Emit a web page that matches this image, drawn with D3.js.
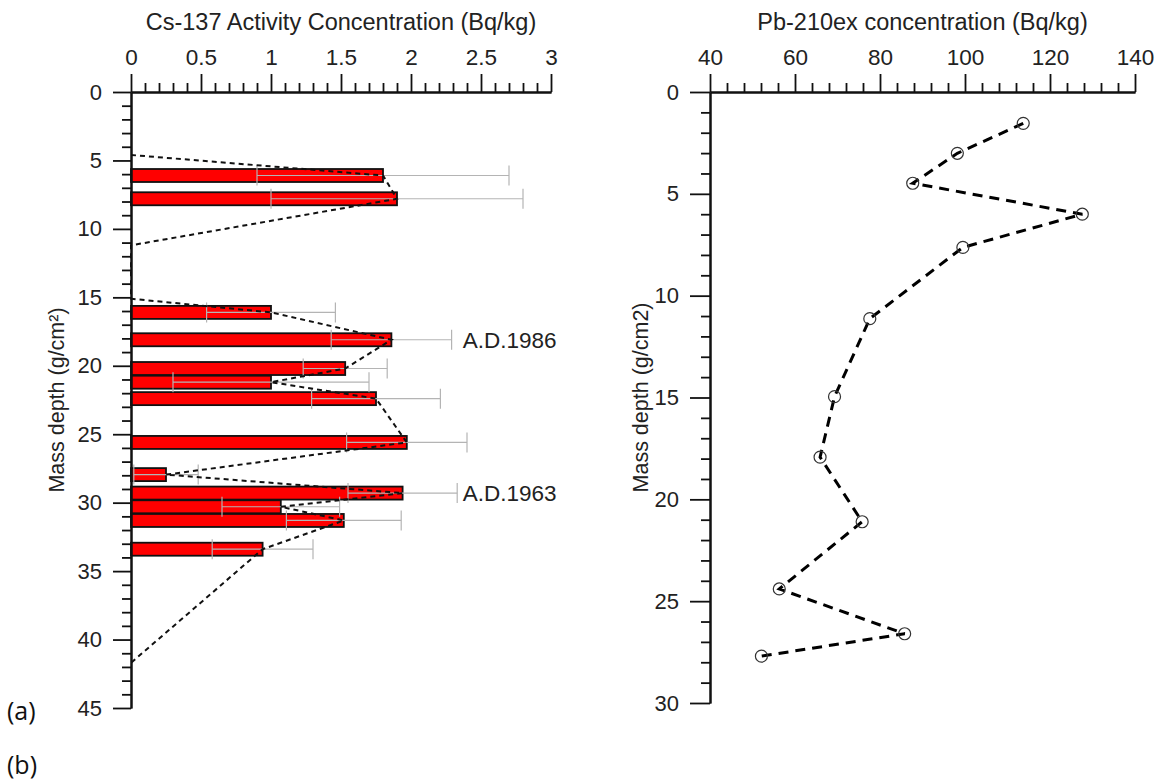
<!DOCTYPE html>
<html>
<head>
<meta charset="utf-8">
<script src="https://cdn.jsdelivr.net/npm/d3@7"></script>
<style>
  html, body { margin: 0; padding: 0; background: #fff; }
  svg { display: block; }
</style>
</head>
<body>
<svg id="chart" width="1158" height="784"></svg>
<script>
// ---------- DATA ----------
// Panel (a): Cs-137 bars
const csDepth = [6.1, 7.8, 16.1, 18.1, 20.2, 21.2, 22.4, 25.6, 27.95, 29.3, 30.3, 31.3, 33.4];
const csValue = [1.80, 1.90, 1.00, 1.86, 1.53, 1.00, 1.75, 1.97, 0.25, 1.94, 1.07, 1.52, 0.94];
const csError = [0.90, 0.90, 0.46, 0.43, 0.30, 0.70, 0.46, 0.43, 0.23, 0.39, 0.42, 0.41, 0.36];
// Panel (a): dotted profile line
const profDepth = [4.6, 6.1, 7.8, 11.2, 15.1, 16.1, 18.1, 20.2, 21.2, 22.4, 25.6, 27.95, 29.3, 30.3, 31.3, 33.4, 41.7];
const profValue = [0, 1.80, 1.90, 0, 0, 1.00, 1.86, 1.53, 1.00, 1.75, 1.97, 0.25, 1.94, 1.07, 1.52, 0.94, 0];
// Annotations
const annText = ["A.D.1986", "A.D.1963"];
const annDepth = [18.1, 29.3];
const annValue = [2.37, 2.37];
// Axis ticks panel (a)
const csXTicks = [0, 0.5, 1, 1.5, 2, 2.5, 3];
const csYTicks = [0, 5, 10, 15, 20, 25, 30, 35, 40, 45];

// Panel (b): Pb-210ex
const pbDepth = [1.54, 3.01, 4.48, 6.0, 7.63, 11.13, 14.96, 17.93, 21.1, 24.4, 26.6, 27.7];
const pbValue = [113.7, 98.2, 87.7, 127.6, 99.5, 77.6, 69.3, 65.9, 75.8, 56.3, 85.8, 52.1];
const pbXTicks = [40, 60, 80, 100, 120, 140];
const pbYTicks = [0, 5, 10, 15, 20, 25, 30];

const FONT = "'Liberation Sans', Arial, sans-serif";
const svg = d3.select("#chart");

function styleAxis(g, fs) {
  g.selectAll("path.domain").attr("stroke", "#111").attr("stroke-width", 2);
  g.selectAll(".tick line").attr("stroke", "#111").attr("stroke-width", 1.8);
  g.selectAll(".tick text").attr("font-size", fs || 22).attr("fill", "#222")
    .attr("font-family", FONT);
}

// ---------- PANEL A ----------
const xA = d3.scaleLinear().domain([0, 3]).range([131, 551]);
const yA = d3.scaleLinear().domain([0, 45]).range([92, 708]);

const gA = svg.append("g");
const barH = 13;

gA.selectAll("rect.bar").data(csDepth).join("rect")
  .attr("class", "bar")
  .attr("x", xA(0))
  .attr("y", (d) => yA(d) - barH / 2)
  .attr("width", (d, i) => xA(csValue[i]) - xA(0))
  .attr("height", barH)
  .attr("fill", "#ff0000")
  .attr("stroke", "#111")
  .attr("stroke-width", 1.8);

const eb = gA.selectAll("g.eb").data(csDepth).join("g").attr("class", "eb")
  .attr("stroke", "#b4b4b4").attr("stroke-width", 1.2);
eb.append("line")
  .attr("x1", (d, i) => xA(csValue[i] - csError[i]))
  .attr("x2", (d, i) => xA(csValue[i] + csError[i]))
  .attr("y1", (d) => yA(d)).attr("y2", (d) => yA(d));
eb.append("line")
  .attr("x1", (d, i) => xA(csValue[i] - csError[i]))
  .attr("x2", (d, i) => xA(csValue[i] - csError[i]))
  .attr("y1", (d) => yA(d) - 10).attr("y2", (d) => yA(d) + 10);
eb.append("line")
  .attr("x1", (d, i) => xA(csValue[i] + csError[i]))
  .attr("x2", (d, i) => xA(csValue[i] + csError[i]))
  .attr("y1", (d) => yA(d) - 10).attr("y2", (d) => yA(d) + 10);

const profLine = d3.line().x((d) => xA(d[1])).y((d) => yA(d[0]));
gA.append("path")
  .datum(profDepth.map((d, i) => [d, profValue[i]]))
  .attr("d", profLine)
  .attr("fill", "none")
  .attr("stroke", "#111")
  .attr("stroke-width", 2)
  .attr("stroke-dasharray", "5,4");

gA.selectAll("text.ann").data(annText).join("text")
  .attr("class", "ann")
  .attr("x", (d, i) => xA(annValue[i]))
  .attr("y", (d, i) => yA(annDepth[i]))
  .attr("dy", "0.35em")
  .attr("font-family", FONT)
  .attr("font-size", 22.5)
  .attr("fill", "#222")
  .text((d) => d);

const minorXA = d3.range(0, 3.0001, 0.1).map((v) => +v.toFixed(2)).filter((v) => !csXTicks.some((t) => Math.abs(t - v) < 1e-6));
const minorYA = d3.range(0, 45.001, 1).filter((v) => !csYTicks.includes(v));

gA.append("g").attr("transform", `translate(0,${yA(0)})`)
  .call(d3.axisTop(xA).tickValues(minorXA).tickSize(9).tickSizeOuter(0).tickFormat(""))
  .call(styleAxis);
gA.append("g").attr("transform", `translate(0,${yA(0)})`)
  .call(d3.axisTop(xA).tickValues(csXTicks).tickSize(18).tickSizeOuter(0).tickPadding(9).tickFormat(d3.format("")))
  .call((g) => styleAxis(g, 22.5));
gA.append("g").attr("transform", `translate(${xA(0)},0)`)
  .call(d3.axisLeft(yA).tickValues(minorYA).tickSize(9).tickSizeOuter(0).tickFormat(""))
  .call(styleAxis);
gA.append("g").attr("transform", `translate(${xA(0)},0)`)
  .call(d3.axisLeft(yA).tickValues(csYTicks).tickSize(18).tickSizeOuter(0).tickPadding(11).tickFormat(d3.format("")))
  .call((g) => styleAxis(g, 22));

gA.append("text")
  .attr("x", (xA.range()[0] + xA.range()[1]) / 2)
  .attr("y", 30)
  .attr("text-anchor", "middle")
  .attr("font-family", FONT)
  .attr("font-size", 23.5)
  .attr("fill", "#222")
  .text("Cs-137 Activity Concentration (Bq/kg)");

gA.append("text")
  .attr("transform", `translate(64,${(yA.range()[0] + yA.range()[1]) / 2}) rotate(-90)`)
  .attr("text-anchor", "middle")
  .attr("font-family", FONT)
  .attr("font-size", 21.5)
  .attr("fill", "#222")
  .text("Mass depth (g/cm²)");

// ---------- PANEL B ----------
const xB = d3.scaleLinear().domain([40, 140]).range([710, 1135]);
const yB = d3.scaleLinear().domain([0, 30]).range([92, 703]);
const gB = svg.append("g");

const minorXB = d3.range(40, 140.001, 4).filter((v) => !pbXTicks.includes(v));
const minorYB = d3.range(0, 30.001, 1).filter((v) => !pbYTicks.includes(v));

gB.append("g").attr("transform", `translate(0,${yB(0)})`)
  .call(d3.axisTop(xB).tickValues(minorXB).tickSize(9).tickSizeOuter(0).tickFormat(""))
  .call(styleAxis);
gB.append("g").attr("transform", `translate(0,${yB(0)})`)
  .call(d3.axisTop(xB).tickValues(pbXTicks).tickSize(18).tickSizeOuter(0).tickPadding(9).tickFormat(d3.format("")))
  .call((g) => styleAxis(g, 22.5));
gB.append("g").attr("transform", `translate(${xB(40)},0)`)
  .call(d3.axisLeft(yB).tickValues(minorYB).tickSize(9).tickSizeOuter(0).tickFormat(""))
  .call(styleAxis);
gB.append("g").attr("transform", `translate(${xB(40)},0)`)
  .call(d3.axisLeft(yB).tickValues(pbYTicks).tickSize(20).tickSizeOuter(0).tickPadding(11).tickFormat(d3.format("")))
  .call((g) => styleAxis(g, 22));

gB.append("text")
  .attr("x", (xB.range()[0] + xB.range()[1]) / 2)
  .attr("y", 30)
  .attr("text-anchor", "middle")
  .attr("font-family", FONT)
  .attr("font-size", 23.5)
  .attr("fill", "#222")
  .text("Pb-210ex concentration (Bq/kg)");

gB.append("text")
  .attr("transform", `translate(648,${(yB.range()[0] + yB.range()[1]) / 2}) rotate(-90)`)
  .attr("text-anchor", "middle")
  .attr("font-family", FONT)
  .attr("font-size", 21.5)
  .attr("fill", "#222")
  .text("Mass depth (g/cm2)");

const pbLine = d3.line().x((d) => xB(d[1])).y((d) => yB(d[0]));
gB.append("path")
  .datum(pbDepth.map((d, i) => [d, pbValue[i]]))
  .attr("d", pbLine)
  .attr("fill", "none")
  .attr("stroke", "#000")
  .attr("stroke-width", 3)
  .attr("stroke-dasharray", "10,7");

gB.selectAll("circle.pt").data(pbDepth).join("circle")
  .attr("class", "pt")
  .attr("cx", (d, i) => xB(pbValue[i]))
  .attr("cy", (d) => yB(d))
  .attr("r", 6)
  .attr("fill", "none")
  .attr("stroke", "#333")
  .attr("stroke-width", 1.2);

// panel labels
svg.append("text").attr("x", 7).attr("y", 720)
  .attr("font-family", "'Open Sans', 'Noto Sans', sans-serif")
  .attr("font-size", 25).attr("fill", "#111").text("(a)");
svg.append("text").attr("x", 7).attr("y", 774)
  .attr("font-family", "'Open Sans', 'Noto Sans', sans-serif")
  .attr("font-size", 25).attr("fill", "#111").text("(b)");
</script>
</body>
</html>
